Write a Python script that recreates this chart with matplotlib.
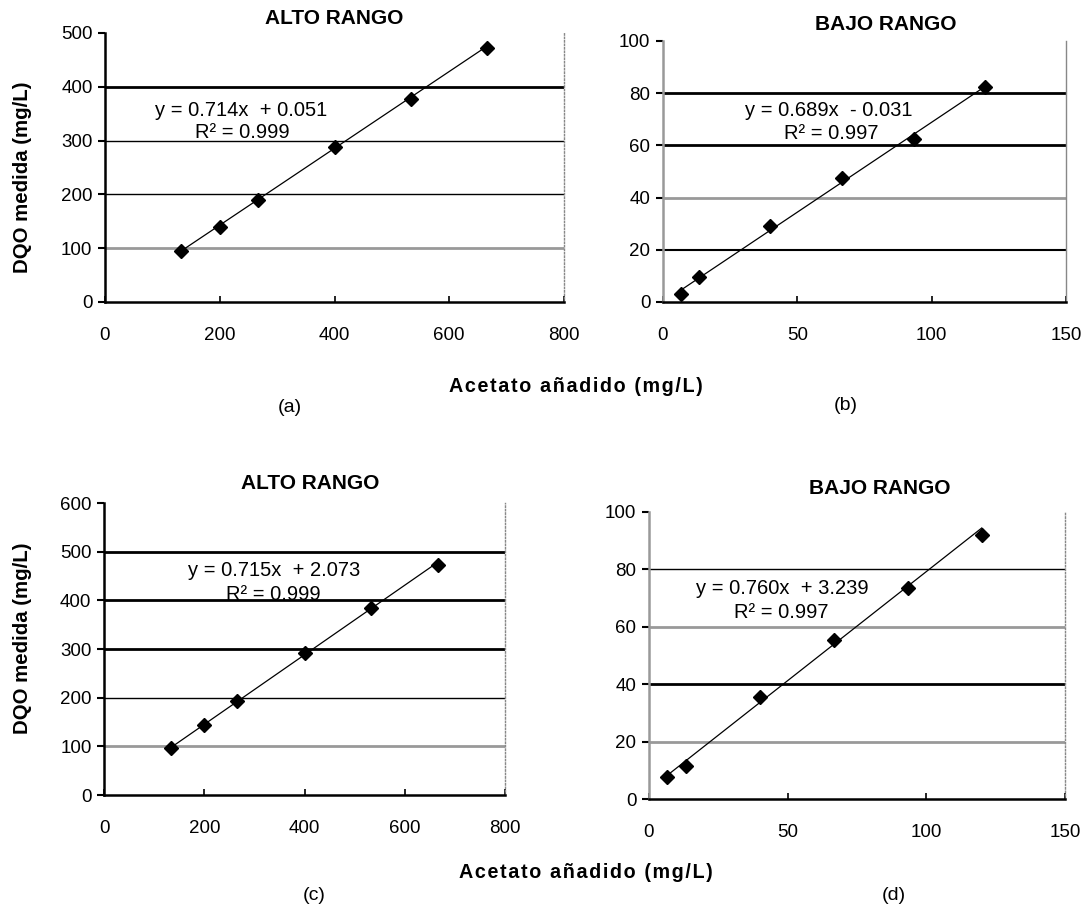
import numpy as np
import matplotlib
matplotlib.use("Agg")
import matplotlib.pyplot as plt

plt.rcParams['font.family'] = ['Liberation Sans', 'DejaVu Sans']

# acetato añadido (mg/L) vs DQO medida (mg/L)
x_alto = [133, 200, 266, 400, 533, 666]
x_bajo = [6.67, 13.33, 40, 66.67, 93.33, 120]

y_a = [94, 140, 190, 289, 378, 473]
y_b = [3, 9.4, 29, 47.5, 62.5, 82.4]
y_c = [96, 144, 193, 291, 384, 472]
y_d = [7.5, 11.5, 35.5, 55.5, 73.5, 92]

fits = {
    'a': (0.714, 0.051, 0.999),
    'b': (0.689, -0.031, 0.997),
    'c': (0.715, 2.073, 0.999),
    'd': (0.760, 3.239, 0.997),
}

W, H = 1088, 909
fig = plt.figure(figsize=(W / 100, H / 100), dpi=100)


def px_axes(x0, y0, x1, y1):
    # pixel box -> figure fraction
    return fig.add_axes([x0 / W, 1 - y1 / H, (x1 - x0) / W, (y1 - y0) / H])


def fig_text(x, y, s, **kw):
    fig.text(x / W, 1 - y / H, s, ha='center', va='center', **kw)


def panel(box, xs, ys, key, xmax, xstep, ymax, ystep, grid_styles, left_color, right_dotted):
    ax = px_axes(*box)
    m, b, r2 = fits[key]
    xf = np.array([xs[0], xs[-1]])
    ax.plot(xf, m * xf + b, color='black', lw=0.9, zorder=3)
    ax.plot(xs, ys, linestyle='none', marker='D', ms=7, color='black', zorder=4)
    ax.set_xlim(0, xmax)
    ax.set_ylim(0, ymax)
    ax.set_xticks(np.arange(0, xmax + 1, xstep))
    ax.set_yticks(np.arange(0, ymax + 1, ystep))
    for yv, (c, lw) in grid_styles.items():
        ax.axhline(yv, color=c, lw=lw, zorder=1)
    ax.spines['top'].set_visible(False)
    ax.spines['right'].set_color('#888888')
    if right_dotted:
        ax.spines['right'].set_linestyle((0, (1, 1.5)))
    ax.spines['right'].set_linewidth(1)
    ax.spines['left'].set_color(left_color)
    ax.spines['left'].set_linewidth(1.8)
    ax.spines['bottom'].set_linewidth(1.8)
    ax.tick_params(axis='y', direction='out', length=5, width=1.5, labelsize=13.5, pad=4)
    ax.tick_params(axis='x', direction='in', length=4, width=1.2, labelsize=13.5, pad=18)
    return ax


# (a)
panel((105, 33, 564, 302), x_alto, y_a, 'a', 800, 200, 500, 100,
      {400: ('black', 2.0), 300: ('black', 1.0), 200: ('black', 1.0), 100: ('#999999', 2.0)},
      'black', True)
# (b)
panel((663, 41, 1066, 302), x_bajo, y_b, 'b', 150, 50, 100, 20,
      {80: ('black', 2.0), 60: ('black', 2.0), 40: ('#999999', 2.0), 20: ('black', 1.5)},
      '#999999', False)
# (c)
panel((104, 503, 505, 795), x_alto, y_c, 'c', 800, 200, 600, 100,
      {500: ('black', 2.0), 400: ('black', 2.0), 300: ('black', 2.0), 200: ('black', 1.0),
       100: ('#999999', 2.0)},
      'black', True)
# (d)
panel((649, 512, 1065, 799), x_bajo, y_d, 'd', 150, 50, 100, 20,
      {80: ('black', 1.0), 60: ('#999999', 2.0), 40: ('black', 2.0), 20: ('#999999', 2.0)},
      '#999999', True)

# titles
fig_text(334, 19, 'ALTO RANGO', fontsize=15, fontweight='bold')
fig_text(886, 25, 'BAJO RANGO', fontsize=15, fontweight='bold')
fig_text(310, 484, 'ALTO RANGO', fontsize=15, fontweight='bold')
fig_text(880, 489, 'BAJO RANGO', fontsize=15, fontweight='bold')

# equations
eqs = [('a', 241, 110, 242, 133), ('b', 829, 111, 831, 134),
       ('c', 274, 571, 273, 595), ('d', 782, 589, 781, 612)]
for key, ex, ey, rx, ry in eqs:
    m, b, r2 = fits[key]
    sign = '+' if b >= 0 else '-'
    fig_text(ex, ey, f'y = {m:.3f}x  {sign} {abs(b):.3f}', fontsize=14.5)
    fig_text(rx, ry, f'R² = {r2:.3f}', fontsize=14.5)

# axis labels
for yc in (177, 638):
    fig.text(23 / W, 1 - yc / H, 'DQO medida (mg/L)', rotation=90, ha='center',
             va='center', fontsize=14.7, fontweight='bold')
xlab = '\u200a'.join('Acetato añadido (mg/L)')
fig_text(576, 386, xlab, fontsize=14.2, fontweight='bold')
fig_text(586, 873, xlab, fontsize=14.2, fontweight='bold')

# sub-captions
fig_text(290, 407, '(a)', fontsize=14)
fig_text(846, 406, '(b)', fontsize=14)
fig_text(314, 896, '(c)', fontsize=14)
fig_text(894, 895, '(d)', fontsize=14)

fig.savefig('out.png', dpi=100)
